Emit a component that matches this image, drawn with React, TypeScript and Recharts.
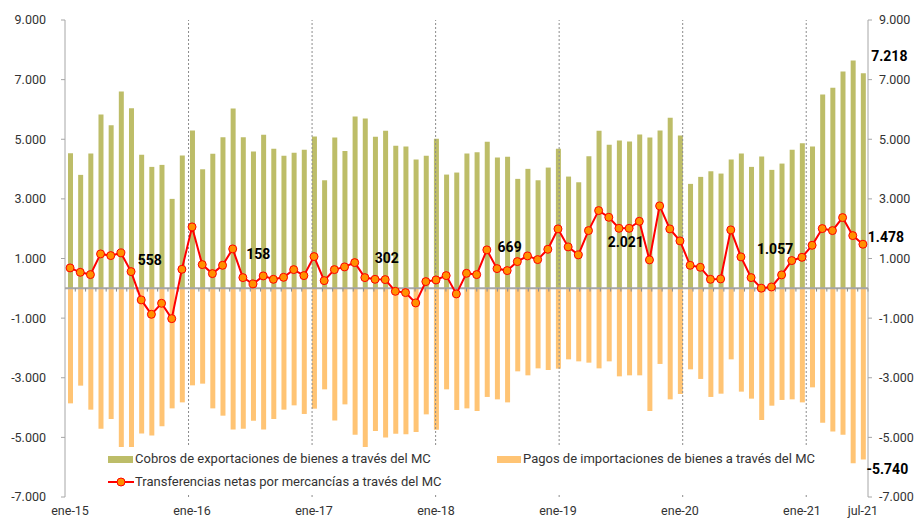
import { ComposedChart, Bar, Line, XAxis, YAxis, ReferenceLine, ReferenceDot, LabelList } from "recharts";

const monthNames = ["ene", "feb", "mar", "abr", "may", "jun", "jul", "ago", "sep", "oct", "nov", "dic"];
const years = ["15", "16", "17", "18", "19", "20", "21"];
const months = years.flatMap((y) => monthNames.map((m) => `${m}-${y}`)).slice(0, 79);

// Cobros de exportaciones (millones)
const exportsMC = [
  4530, 3805, 4520, 5829, 5470, 6600, 6040, 4476, 4073, 4140, 3000, 4453,
  5292, 3993, 4510, 5067, 6030, 5067, 4587, 5147, 4678, 4443, 4543, 4644,
  5090, 3624, 5057, 4610, 5762, 5695, 5080, 5282, 4778, 4755, 4319, 4443,
  5013, 3815, 3883, 4520, 4564, 4913, 4386, 4409, 3671, 4007, 3624, 4050,
  4678, 3748, 3557, 4430, 5282, 4812, 4956, 4923, 5158, 5057, 5292, 5718,
  5124, 3503, 3738, 3926, 3849, 4319, 4520, 4073, 4420, 3973, 4184, 4644,
  4866, 4755, 6500, 6725, 7272, 7641, 7218,
];

// Pagos de importaciones (millones)
const importsMC = [
  -3859, -3265, -4070, -4708, -4383, -5412, -5480, -4866, -4933, -4631, -4027, -3826,
  -3255, -3198, -4027, -4272, -4732, -4708, -4440, -4732, -4383, -4070, -3926, -4215,
  -4037, -3389, -4430, -3893, -4909, -5336, -4786, -5000, -4876, -4899, -4820, -4228,
  -4742, -3389, -4081, -4027, -4115, -3644, -3725, -3826, -2785, -2919, -2685, -2740,
  -2695, -2383, -2450, -2494, -2685, -2450, -2953, -2919, -2919, -4115, -2537, -3725,
  -3544, -2718, -3040, -3644, -3534, -2383, -3466, -3701, -4416, -3937, -3745, -3725,
  -3826, -3322, -4507, -4799, -4909, -5872, -5740,
];

// Transferencias netas
const netMC = [
  684, 537, 460, 1154, 1097, 1188, 560, -389, -872, -503, -1017, 638,
  2060, 795, 493, 772, 1322, 359, 148, 416, 302, 369, 627, 426,
  1064, 258, 627, 718, 862, 359, 302, 292, -101, -144, -490, 225,
  281, 426, -188, 503, 460, 1289, 661, 594, 896, 1087, 963, 1309,
  1993, 1389, 1121, 1936, 2607, 2383, 2013, 2013, 2248, 953, 2765, 1993,
  1591, 772, 705, 302, 315, 1960, 1054, 359, 5, 45, 450, 930,
  1040, 1443, 2003, 1936, 2372, 1768, 1478,
];

// promedio anual de transferencias netas
const annualNet = [558, 158, 302, 669, 2021, 1057];
const annualLabelAt = [
  { x: 8.24, y: 963 },
  { x: 18.77, y: 1154 },
  { x: 31.25, y: 1020 },
  { x: 43.19, y: 1389 },
  { x: 54.47, y: 1557 },
  { x: 68.98, y: 1322 },
];

const xTickLabels = ["ene-15", "ene-16", "ene-17", "ene-18", "ene-19", "ene-20", "ene-21", "jul-21"];
const yTicks = [-7000, -5000, -3000, -1000, 1000, 3000, 5000, 7000, 9000];
const yearBreaks = [12, 24, 36, 48, 60, 72];
const monthBreaks = months.map((_, i) => i).filter((i) => i > 0 && i % 12 !== 0);

const data = months.map((m, i) => ({ month: m, exp: exportsMC[i], imp: importsMC[i], net: netMC[i] }));

const fmt = (v: number) => {
  const s = String(Math.abs(Math.round(v))).replace(/\B(?=(\d{3})+(?!\d))/g, ".");
  return v < 0 ? `-${s}` : s;
};

const OLIVE = "#bdbd68";
const ORANGE = "#ffc474";
const RED = "#ff0000";
const DOT = "#ff9000";
const TXT = "#333333";
const FONT = "Roboto, sans-serif";
const lastIdx = months.length - 1;

const endLabel = (dx: number, dy: number, bottom: boolean) => (props: any) => {
  const { x, y, width, height, index, value } = props;
  if (index !== lastIdx) return null;
  const w = Number(width) || 0;
  const h = Number(height) || 0;
  const cx = Number(x) + w / 2 + dx;
  const baseY = bottom ? Math.max(Number(y), Number(y) + h) : Math.min(Number(y), Number(y) + h);
  return (
    <text x={cx} y={baseY + dy} textAnchor="middle" dominantBaseline="central" fontFamily={FONT} fontWeight={700} fontSize={14} fill="#000">
      {fmt(Number(value))}
    </text>
  );
};

export default function App() {
  return (
    <div style={{ position: "absolute", left: 0, top: 0, width: 916, height: 518, background: "#fff", fontFamily: FONT }}>
      <ComposedChart
        width={916}
        height={518}
        data={data}
        stackOffset="sign"
        margin={{ top: 20, right: 0, bottom: 0, left: 0 }}
      >
        <XAxis
          dataKey="month"
          height={21}
          interval={0}
          axisLine={false}
          tickLine={false}
          tickSize={0}
          tickMargin={9}
          tick={{ fill: TXT, fontSize: 12.5, fontFamily: FONT }}
          tickFormatter={(v: string) => (xTickLabels.includes(v) ? v : "")}
        />
        <XAxis xAxisId="num" type="number" domain={[0, 79]} hide allowDataOverflow />
        <YAxis
          yAxisId="left"
          width={65}
          domain={[-7000, 9000]}
          ticks={yTicks}
          interval={0}
          tickFormatter={fmt}
          axisLine={{ stroke: "#a6a6a6" }}
          tickLine={{ stroke: "#a6a6a6" }}
          tickSize={4}
          tickMargin={15}
          tick={{ fill: TXT, fontSize: 12.5, fontFamily: FONT }}
        />
        <YAxis
          yAxisId="right"
          orientation="right"
          width={48}
          domain={[-7000, 9000]}
          ticks={yTicks}
          interval={0}
          tickFormatter={fmt}
          axisLine={{ stroke: "#a6a6a6" }}
          tickLine={{ stroke: "#a6a6a6" }}
          tickSize={4}
          tickMargin={7}
          tick={{ fill: TXT, fontSize: 12.5, fontFamily: FONT }}
        />
        {yearBreaks.map((b) => (
          <ReferenceLine key={b} xAxisId="num" yAxisId="left" x={b} stroke="#8c8c8c" strokeDasharray="2 2" strokeWidth={1} />
        ))}
        <Bar yAxisId="left" dataKey="exp" stackId="s" fill={OLIVE} barSize={5} isAnimationActive={false}>
          <LabelList dataKey="exp" content={endLabel(26, -17, false)} />
        </Bar>
        <Bar yAxisId="left" dataKey="imp" stackId="s" fill={ORANGE} barSize={5} isAnimationActive={false}>
          <LabelList dataKey="imp" content={endLabel(24, 10, true)} />
        </Bar>
        <ReferenceLine yAxisId="left" y={0} stroke="#a6a6a6" strokeWidth={2} />
        {monthBreaks.map((b) => (
          <ReferenceLine
            key={`t${b}`}
            xAxisId="num"
            yAxisId="left"
            segment={[{ x: b, y: 0 }, { x: b, y: -110 }]}
            stroke="#8c8c8c"
            strokeWidth={1}
          />
        ))}
        <Line
          yAxisId="right"
          dataKey="net"
          stroke={RED}
          strokeWidth={2}
          dot={{ r: 4, fill: DOT, stroke: RED, strokeWidth: 1 }}
          activeDot={false}
          isAnimationActive={false}
        >
          <LabelList dataKey="net" content={endLabel(23, -7, false)} />
        </Line>
        {annualNet.map((v, i) => (
          <ReferenceDot
            key={i}
            xAxisId="num"
            yAxisId="left"
            x={annualLabelAt[i].x}
            y={annualLabelAt[i].y}
            r={0}
            shape={(p: any) => (
              <text x={p.cx} y={p.cy} textAnchor="middle" dominantBaseline="central" fontFamily={FONT} fontWeight={700} fontSize={14} fill="#000">
                {fmt(v)}
              </text>
            )}
          />
        ))}
      </ComposedChart>
      <div style={{ position: "absolute", left: 100, top: 447, width: 715, height: 47, background: "#fff", fontSize: 13, color: TXT }}>
        <div style={{ position: "absolute", left: 8, top: 9, width: 25, height: 7, background: OLIVE }} />
        <div style={{ position: "absolute", left: 35, top: 4, whiteSpace: "nowrap" }}>Cobros de exportaciones de bienes a través del MC</div>
        <div style={{ position: "absolute", left: 397, top: 9, width: 24, height: 7, background: ORANGE }} />
        <div style={{ position: "absolute", left: 423, top: 4, whiteSpace: "nowrap" }}>Pagos de importaciones de bienes a través del MC</div>
        <svg style={{ position: "absolute", left: 8, top: 29 }} width={26} height={12}>
          <line x1={0} y1={6} x2={26} y2={6} stroke={RED} strokeWidth={2} />
          <circle cx={13} cy={6} r={4} fill={DOT} stroke={RED} strokeWidth={1} />
        </svg>
        <div style={{ position: "absolute", left: 35, top: 27, whiteSpace: "nowrap" }}>Transferencias netas por mercancías a través del MC</div>
      </div>
    </div>
  );
}
